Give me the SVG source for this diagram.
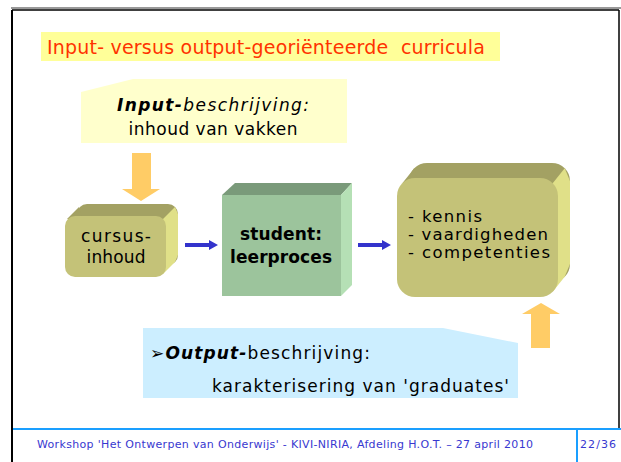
<svg xmlns="http://www.w3.org/2000/svg" width="621" height="462" viewBox="0 0 621 462">
<style>
text{font-family:"DejaVu Sans","Liberation Sans",sans-serif;fill:#000}
.t{font-size:17px}
.s{font-size:16.5px}
.title{font-size:19px;fill:#ff3300;white-space:pre}
.foot{font-size:11px;fill:#3838d0}
.orange{fill:#ffcc66}
.blue{fill:#3333cc}
.oTop{fill:#a3a163}
.oSide{fill:#e0e088}
.oFront{fill:#c4c278}
</style>
<rect width="621" height="462" fill="#fff"/>
<g id="frame">
<line x1="11" y1="8" x2="621" y2="8" stroke="#999" stroke-width="2"/>
<line x1="12" y1="10" x2="619" y2="10" stroke="#000" stroke-width="1.5"/>
<line x1="12" y1="10" x2="12" y2="462" stroke="#000" stroke-width="2"/>
<line x1="619" y1="10" x2="619" y2="428" stroke="#000" stroke-width="1.5"/>
<line x1="13" y1="429" x2="621" y2="429" stroke="#1a9fff" stroke-width="2"/>
<line x1="577" y1="429" x2="577" y2="462" stroke="#1a9fff" stroke-width="2"/>
</g>
<g id="title">
<rect x="41" y="32" width="459" height="29" fill="#ffff99"/>
<text class="title" x="47" y="54" textLength="438">Input- versus output-georiënteerde  curricula</text>
</g>
<g id="input-desc">
<polygon points="81,92 133,79 347,79 347,143 81,143" fill="#ffffcc"/>
<text class="t" x="213" y="111" text-anchor="middle" textLength="192"><tspan font-weight="bold" font-style="italic">Input-</tspan><tspan font-style="italic">beschrijving:</tspan></text>
<text class="t" x="213" y="135" text-anchor="middle" textLength="169">inhoud van vakken</text>
</g>
<g id="cursus">
<rect class="oTop" x="77" y="204" width="101" height="61" rx="10"/>
<polygon class="oTop" points="67,219 79,207 82,219"/>
<polygon class="oSide" points="163,219 175,207 178,214 178,255 175,262 163,274"/>
<rect class="oFront" x="65" y="216" width="101" height="61" rx="10"/>
<text class="t" x="116" y="242" text-anchor="middle" textLength="70">cursus-</text>
<text class="t" x="116" y="263" text-anchor="middle" textLength="59">inhoud</text>
</g>
<g id="student">
<polygon points="222,195 235,183 352,183 341,195" fill="#7a9a7a"/>
<polygon points="341,195 352,183 352,285 341,296" fill="#b5e0b5"/>
<rect x="222" y="195" width="119" height="101" fill="#9cc49c"/>
<text class="t" x="281" y="240" text-anchor="middle" font-weight="bold" textLength="82">student:</text>
<text class="t" x="281" y="263" text-anchor="middle" font-weight="bold" textLength="102">leerproces</text>
</g>
<g id="outcomes">
<rect class="oTop" x="409" y="163" width="161" height="119" rx="18"/>
<polygon class="oTop" points="402.3,183.3 414.3,168.3 418,183.3"/>
<polygon class="oSide" points="552.7,183.3 564.7,168.3 570,181 570,264 564.7,276.7 552.7,291.7"/>
<rect class="oFront" x="397" y="178" width="161" height="119" rx="18"/>
<text class="s" x="408" y="222" textLength="74">- kennis</text>
<text class="s" x="408" y="240" textLength="140">- vaardigheden</text>
<text class="s" x="408" y="258" textLength="142">- competenties</text>
</g>
<g id="output-desc">
<polygon points="143,328 443,328 518,343 518,398 143,398" fill="#cceeff"/>
<text class="t" x="150" y="359" textLength="220"><tspan>➢</tspan><tspan font-weight="bold" font-style="italic">Output-</tspan><tspan>beschrijving:</tspan></text>
<text class="t" x="212" y="392" textLength="297">karakterisering van 'graduates'</text>
</g>
<g id="connectors">
<polygon class="orange" points="132,153 151,153 151,189 160,189 141,201 122,189 132,189"/>
<polygon class="orange" points="531,348 550,348 550,314 560,314 541,303 522,314 531,314"/>
<polygon class="blue" points="185,243 209,243 209,240 218,245 209,250 209,247 185,247"/>
<polygon class="blue" points="358,243 382,243 382,240 391,245 382,250 382,247 358,247"/>
</g>
<g id="footer">
<text class="foot" x="37" y="448" textLength="496">Workshop 'Het Ontwerpen van Onderwijs' - KIVI-NIRIA, Afdeling H.O.T. – 27 april 2010</text>
<text class="foot" x="580" y="448" textLength="36">22/36</text>
</g>
</svg>
